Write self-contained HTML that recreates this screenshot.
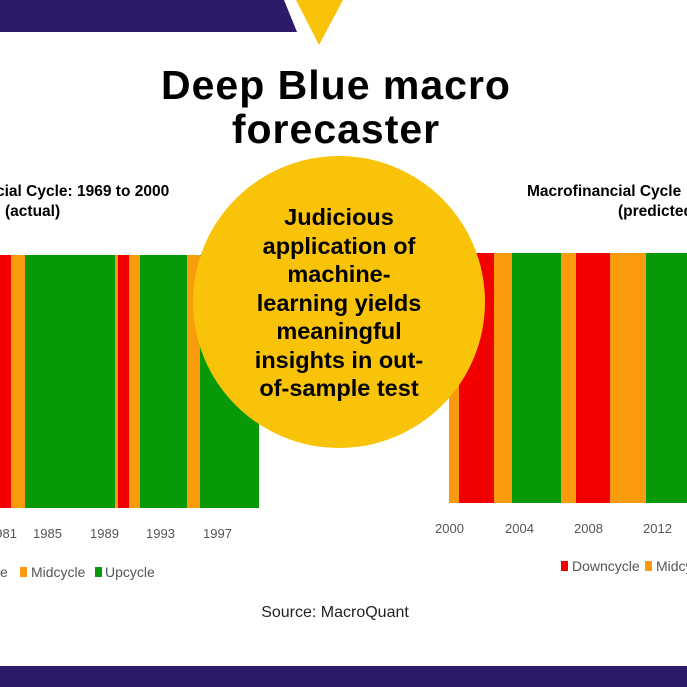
<!DOCTYPE html>
<html><head><meta charset="utf-8"><style>
body{margin:0;width:687px;height:687px;overflow:hidden;background:#fff;position:relative;font-family:"Liberation Sans",sans-serif}
.a{position:absolute}
.t{font-weight:bold;color:#000;white-space:nowrap}
.lbl{font-size:13px;color:#555;font-family:"Liberation Sans Narrow","Liberation Sans",sans-serif}
</style></head><body>
<svg class="a" style="left:0;top:0" width="687" height="687">
<polygon points="0,0 284,0 297,32 0,32" fill="#2e1a6b"/>
<polygon points="296,0 343,0 319,45" fill="#f9c30a"/>
<rect x="0" y="666" width="687" height="21" fill="#2e1a6b"/>
<rect x="0" y="255" width="11" height="253" fill="#f20000"/>
<rect x="11" y="255" width="14" height="253" fill="#f99b0c"/>
<rect x="25" y="255" width="90" height="253" fill="#089908"/>
<rect x="115" y="255" width="3" height="253" fill="#f99b0c"/>
<rect x="118" y="255" width="11" height="253" fill="#f20000"/>
<rect x="129" y="255" width="11" height="253" fill="#f99b0c"/>
<rect x="140" y="255" width="47" height="253" fill="#089908"/>
<rect x="187" y="255" width="13" height="253" fill="#f99b0c"/>
<rect x="200" y="255" width="59" height="253" fill="#089908"/>
<rect x="449" y="253" width="10" height="250" fill="#f99b0c"/>
<rect x="459" y="253" width="35" height="250" fill="#f20000"/>
<rect x="494" y="253" width="18" height="250" fill="#f99b0c"/>
<rect x="512" y="253" width="49" height="250" fill="#089908"/>
<rect x="561" y="253" width="15" height="250" fill="#f99b0c"/>
<rect x="576" y="253" width="34" height="250" fill="#f20000"/>
<rect x="610" y="253" width="36" height="250" fill="#f99b0c"/>
<rect x="646" y="253" width="41" height="250" fill="#089908"/>
<circle cx="339" cy="302" r="146" fill="#f9c30a"/>
<rect x="20" y="567" width="7" height="10" fill="#f99b0c"/>
<rect x="95" y="567" width="7" height="10" fill="#089908"/>
<rect x="561" y="561" width="7" height="10" fill="#f20000"/>
<rect x="645" y="561" width="7" height="10" fill="#f99b0c"/>
</svg>
<div class="a t" style="left:0;width:672px;top:63px;text-align:center;font-size:41px;line-height:44px;letter-spacing:1px">Deep Blue macro<br>forecaster</div>
<div class="a t" style="left:-4px;top:183px;font-size:15.5px">cial Cycle: 1969 to 2000</div>
<div class="a t" style="left:5px;top:203px;font-size:15.5px">(actual)</div>
<div class="a t" style="left:527px;top:183px;font-size:15.5px">Macrofinancial Cycle</div>
<div class="a t" style="left:618px;top:203px;font-size:15.5px">(predicted)</div>
<div class="a t" style="left:193px;width:292px;top:203px;text-align:center;font-size:23.5px;line-height:28.5px">Judicious<br>application of<br>machine-<br>learning yields<br>meaningful<br>insights in out-<br>of-sample test</div>
<div class="a lbl" style="left:-12px;top:526px">1981</div>
<div class="a lbl" style="left:33px;top:526px">1985</div>
<div class="a lbl" style="left:90px;top:526px">1989</div>
<div class="a lbl" style="left:146px;top:526px">1993</div>
<div class="a lbl" style="left:203px;top:526px">1997</div>
<div class="a lbl" style="left:435px;top:521px">2000</div>
<div class="a lbl" style="left:505px;top:521px">2004</div>
<div class="a lbl" style="left:574px;top:521px">2008</div>
<div class="a lbl" style="left:643px;top:521px">2012</div>
<div class="a lbl" style="left:0;top:564px;font-size:14px">e</div>
<div class="a lbl" style="left:31px;top:564px;font-size:14px">Midcycle</div>
<div class="a lbl" style="left:105px;top:564px;font-size:14px">Upcycle</div>
<div class="a lbl" style="left:572px;top:558px;font-size:14px">Downcycle</div>
<div class="a lbl" style="left:656px;top:558px;font-size:14px">Midcycle</div>
<div class="a" style="left:0;width:670px;top:604px;text-align:center;font-size:16px;color:#222">Source: MacroQuant</div>
</body></html>
